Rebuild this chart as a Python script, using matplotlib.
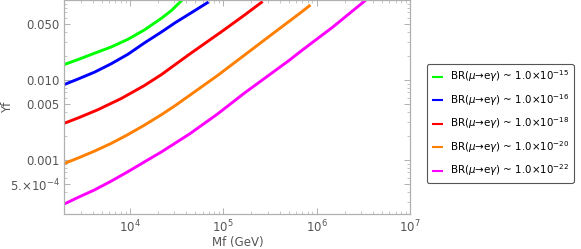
import numpy as np
import matplotlib
matplotlib.use("Agg")
import matplotlib.pyplot as plt
from matplotlib.ticker import LogLocator, NullFormatter, FixedLocator, FixedFormatter

# values (Mf in GeV, Yf)
mf_15 = [2000, 2800, 4190, 6320, 9570, 14300, 21800, 27900, 36300]
yf_15 = [0.01563, 0.01803, 0.0216, 0.02585, 0.0323, 0.0422, 0.0591, 0.0739, 0.1]

mf_16 = [2000, 2800, 4190, 6320, 9570, 14300, 21800, 30800, 44500, 69500]
yf_16 = [0.00879, 0.01029, 0.01252, 0.01594, 0.0210, 0.0290, 0.0398, 0.0523, 0.0682, 0.0944]

mf_18 = [2000, 2870, 4560, 8110, 14300, 21800, 43500, 98200, 169000, 264000]
yf_18 = [0.00288, 0.00339, 0.00425, 0.00587, 0.00851, 0.01168, 0.0210, 0.0410, 0.0649, 0.0958]

mf_20 = [2000, 2870, 4190, 6320, 9570, 14300, 21800, 30800, 43500, 86900, 169000,
         330000, 659000, 857000]
yf_20 = [0.000904, 0.00107, 0.00129, 0.00161, 0.00208, 0.00272, 0.00368, 0.00481,
         0.00640, 0.01138, 0.0205, 0.0371, 0.0682, 0.0866]

mf_22 = [2000, 2870, 4190, 6320, 9570, 14300, 21800, 43500, 86900, 169000, 514000,
         659000, 1490000, 3360000]
yf_22 = [0.000282, 0.000345, 0.000422, 0.000543, 0.000714, 0.000944, 0.00126, 0.00211,
         0.00376, 0.00688, 0.0178, 0.0224, 0.0460, 0.1]

exponents = ["-15", "-16", "-18", "-20", "-22"]
colors = ["#00ff00", "#0000ff", "#ff0000", "#ff8000", "#ff00ff"]

ytick_vals = [0.0005, 0.001, 0.005, 0.01, 0.05]
ytick_labels = ["5.×10$^{-4}$", "0.001", "0.005", "0.010", "0.050"]

plt.rcParams["font.family"] = "DejaVu Sans"
plt.rcParams["mathtext.fontset"] = "dejavusans"
grey = "#555555"
frame = "#b0b0b0"

fig = plt.figure(figsize=(5.81, 2.49), dpi=100)
ax = fig.add_axes([0.111, 0.14, 0.595, 0.86])

series = [(mf_15, yf_15), (mf_16, yf_16), (mf_18, yf_18), (mf_20, yf_20), (mf_22, yf_22)]
for (mf, yf), c, e in zip(series, colors, exponents):
    ax.plot(mf, yf, color=c, lw=2.1, solid_capstyle="butt", solid_joinstyle="round",
            label="BR($\\mu$→e$\\gamma$) ~ 1.0×10$^{" + e + "}$")

ax.set_xscale("log")
ax.set_yscale("log")
ax.set_xlim(2000, 1e7)
ax.set_ylim(2.1e-4, 0.1)

ax.xaxis.set_major_locator(FixedLocator([1e4, 1e5, 1e6, 1e7]))
ax.xaxis.set_minor_locator(LogLocator(base=10, subs=np.arange(2, 10)))
ax.xaxis.set_minor_formatter(NullFormatter())
ax.yaxis.set_major_locator(FixedLocator(ytick_vals))
ax.yaxis.set_major_formatter(FixedFormatter(ytick_labels))
ax.yaxis.set_minor_locator(LogLocator(base=10, subs=np.arange(1, 10)))
ax.yaxis.set_minor_formatter(NullFormatter())

ax.tick_params(which="both", direction="in", top=True, right=True,
               color=frame, labelcolor=grey, labelsize=8.5)
ax.tick_params(which="major", length=4, width=0.7)
ax.tick_params(which="minor", length=2, width=0.5)
for sp in ax.spines.values():
    sp.set_color(frame)
    sp.set_linewidth(0.9)

ax.set_xlabel("Mf (GeV)", color=grey, fontsize=8.5, labelpad=0.5)
ax.set_ylabel("Yf", color=grey, fontsize=8.5)
ax.yaxis.set_label_coords(-0.145, 0.5)

leg = ax.legend(loc="center left", bbox_to_anchor=(1.035, 0.423), fontsize=7.4,
                handlelength=1.1, handletextpad=0.6, labelspacing=0.75,
                borderpad=0.45, frameon=True, fancybox=True, framealpha=1)
leg.get_frame().set_edgecolor("#555555")
leg.get_frame().set_linewidth(0.8)
for line in leg.get_lines():
    line.set_linewidth(1.5)

fig.savefig("out.png", dpi=100)
